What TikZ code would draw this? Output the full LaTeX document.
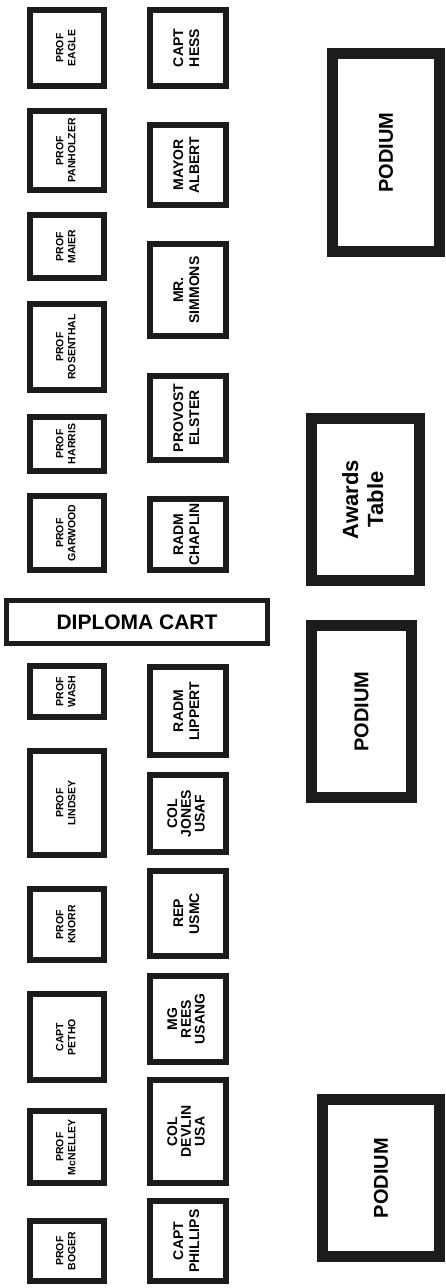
\documentclass[tikz,border=0pt]{standalone}
\usepackage{fontspec}
\usepackage{graphicx}
\setmainfont{Liberation Sans}
\definecolor{ink}{HTML}{1C1C1C}
\newcommand\rt[1]{\rotatebox{90}{\begin{tabular}{@{}c@{}}#1\end{tabular}}}
\newcommand\seat[8]{%
  \node[#1, line width=#2pt, minimum width={#6-#4-#2}, minimum height={#7-#5-#2}]
    (#3) at ({(#4+#6)/2},{(#5+#7)/2}) {#8};}
\tikzset{
  base/.style={draw=ink, fill=white, rectangle, outer sep=0pt, inner sep=0pt, text=black},
  profbox/.style={base, font=\fontsize{10.5}{12}\selectfont\bfseries},
  guestbox/.style={base, font=\fontsize{14}{16}\selectfont\bfseries},
  guestthree/.style={base, font=\fontsize{14}{13.5}\selectfont\bfseries},
  podbox/.style={base, font=\fontsize{20}{24}\selectfont\bfseries},
  awardbox/.style={base, font=\fontsize{22}{25}\selectfont\bfseries},
  cartbox/.style={base, font=\fontsize{21}{24}\selectfont\bfseries},
}
\begin{document}
\begin{tikzpicture}[x=1pt,y=-1pt]
\useasboundingbox[fill=white] (0,0) rectangle (445,1288);
% left column
\seat{profbox}{6}{eagle}{27}{7}{107}{89}{\rt{PROF\\EAGLE}}
\seat{profbox}{6}{panholzer}{27}{108}{107}{193}{\rt{PROF\\PANHOLZER}}
\seat{profbox}{6}{maier}{27}{212}{107}{281}{\rt{PROF\\MAIER}}
\seat{profbox}{6}{rosenthal}{27}{301}{107}{393}{\rt{PROF\\ROSENTHAL}}
\seat{profbox}{6}{harris}{27}{414}{107}{474}{\rt{PROF\\HARRIS}}
\seat{profbox}{6}{garwood}{27}{493}{107}{573}{\rt{PROF\\GARWOOD}}
\seat{profbox}{6}{wash}{27}{663}{107}{720}{\rt{PROF\\WASH}}
\seat{profbox}{6}{lindsey}{27}{748}{107}{858}{\rt{PROF\\LINDSEY}}
\seat{profbox}{6}{knorr}{27}{886}{107}{963}{\rt{PROF\\KNORR}}
\seat{profbox}{6}{petho}{27}{991}{107}{1083}{\rt{CAPT\\PETHO}}
\seat{profbox}{6}{mcnelley}{27}{1108}{107}{1186}{\rt{PROF\\McNELLEY}}
\seat{profbox}{6}{boger}{27}{1218}{107}{1284}{\rt{PROF\\BOGER}}
% right column
\seat{guestbox}{6}{hess}{147}{7}{229}{89}{\rt{CAPT\\HESS}}
\seat{guestbox}{6}{albert}{147}{122}{229}{208}{\rt{MAYOR\\ALBERT}}
\seat{guestbox}{6}{simmons}{147}{241}{229}{339}{\rt{MR.\\SIMMONS}}
\seat{guestbox}{6}{elster}{147}{373}{229}{463}{\rt{PROVOST\\ELSTER}}
\seat{guestbox}{6}{chaplin}{147}{496}{229}{573}{\rt{RADM\\CHAPLIN}}
\seat{guestbox}{6}{lippert}{147}{664}{229}{758}{\rt{RADM\\LIPPERT}}
\seat{guestthree}{6}{jones}{147}{772}{229}{855}{\rt{COL\\JONES\\USAF}}
\seat{guestbox}{6}{usmc}{147}{868}{229}{959}{\rt{REP\\USMC}}
\seat{guestthree}{6}{rees}{147}{973}{229}{1065}{\rt{MG\\REES\\USANG}}
\seat{guestthree}{6}{devlin}{147}{1077}{229}{1186}{\rt{COL\\DEVLIN\\USA}}
\seat{guestbox}{6}{phillips}{147}{1198}{229}{1284}{\rt{CAPT\\PHILLIPS}}
% diploma cart
\seat{cartbox}{5}{cart}{4}{598}{270}{646}{DIPLOMA CART}
% podiums and table
\seat{podbox}{11}{podium1}{327}{48}{445}{257}{\rotatebox{90}{PODIUM}}
\seat{awardbox}{11}{awards}{306}{413}{425}{586}{\rt{Awards\\Table}}
\seat{podbox}{11}{podium2}{306}{620}{417}{803}{\rotatebox{90}{PODIUM}}
\seat{podbox}{11}{podium3}{317}{1094}{445}{1262}{\rotatebox{90}{PODIUM}}
\end{tikzpicture}
\end{document}
